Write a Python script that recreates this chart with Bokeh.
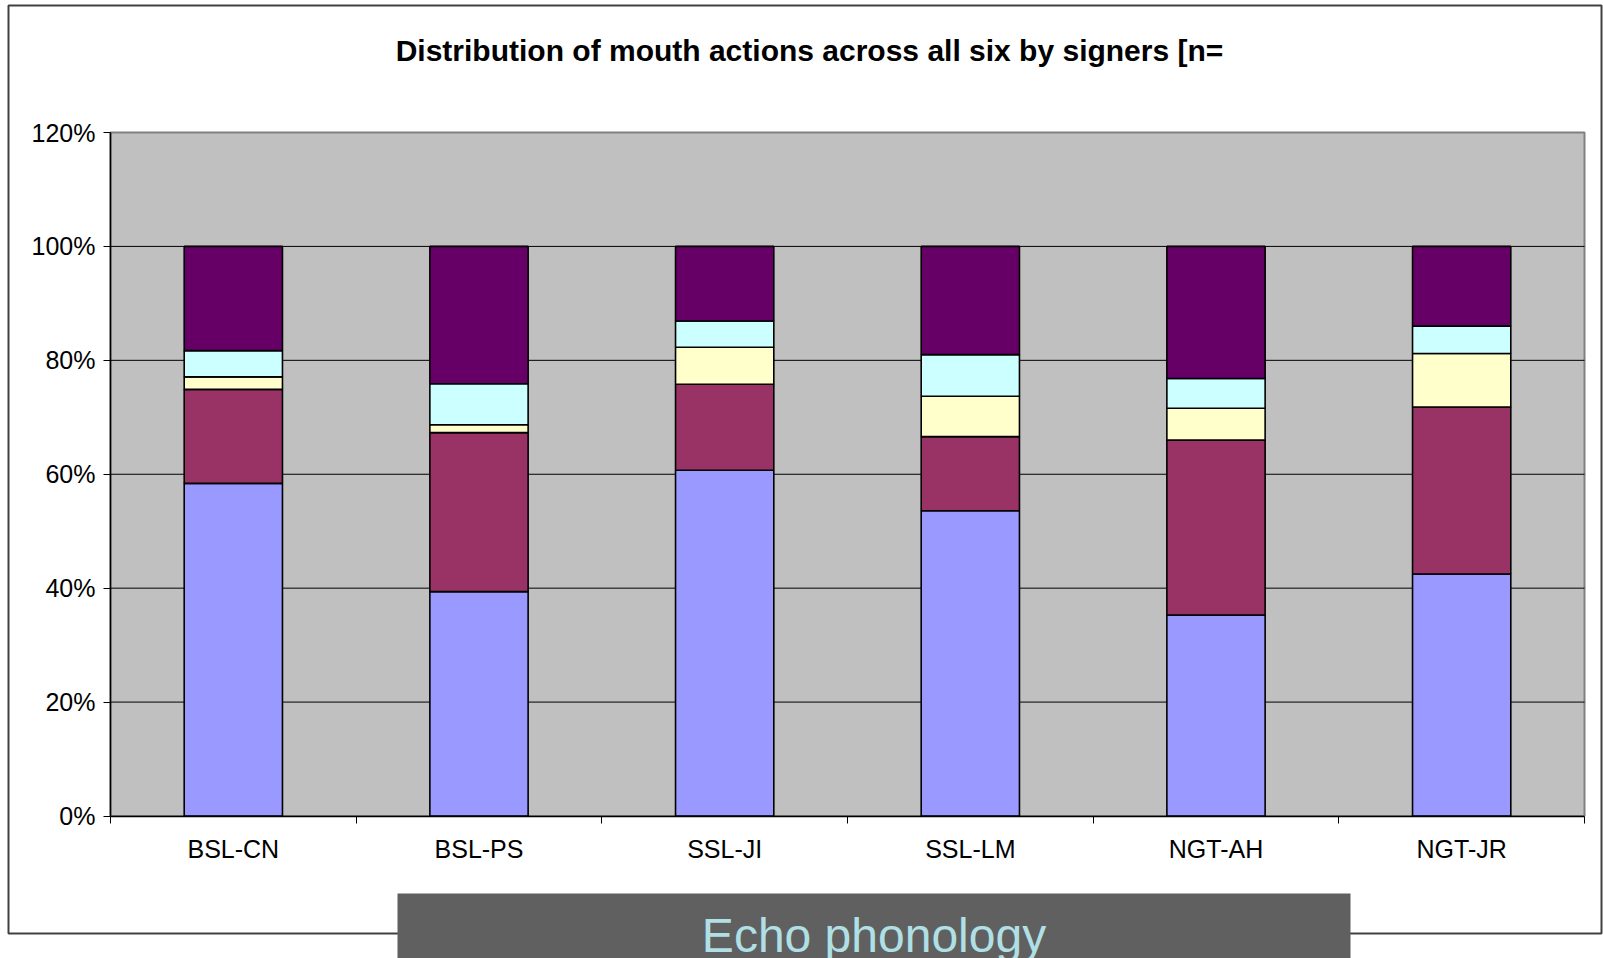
from bokeh.plotting import figure
from bokeh.models import (ColumnDataSource, Range1d, LinearAxis, FixedTicker,
                          NumeralTickFormatter)
from bokeh.core.properties import value
from bokeh.embed import file_html
from bokeh.resources import INLINE

# ---- data (fractions of 1) ----
signers = ["BSL-CN", "BSL-PS", "SSL-JI", "SSL-LM", "NGT-AH", "NGT-JR"]
series_names = ["s1", "s2", "s3", "s4", "s5"]
s1 = [0.584, 0.394, 0.607, 0.536, 0.353, 0.425]
s2 = [0.165, 0.279, 0.151, 0.130, 0.307, 0.293]
s3 = [0.022, 0.014, 0.065, 0.071, 0.056, 0.094]
s4 = [0.046, 0.072, 0.046, 0.073, 0.052, 0.048]
s5 = [0.183, 0.241, 0.131, 0.190, 0.232, 0.140]
colors = ["#9999FF", "#993366", "#FFFFCC", "#CCFFFF", "#660066"]
y_ticks = [0.0, 0.2, 0.4, 0.6, 0.8, 1.0, 1.2]
title_text = "Distribution of mouth actions across all six by signers [n="
banner_text = "Echo phonology"

n = len(signers)
y_max = y_ticks[-1]
centers = [i + 0.5 for i in range(n)]
bounds = [float(i) for i in range(n + 1)]

# ---- layout in canvas pixels ----
W, H = 1603, 958
PL, PR, PT, PB = 110, 1584, 132, 815.5      # plot area edges
xs = (PR - PL) / n
ys = (PB - PT) / y_max
x_range = Range1d(0 - PL / xs, n + (W - PR) / xs)
y_range = Range1d(0 - (H - PB) / ys, y_max + PT / ys)

src = ColumnDataSource(dict(x=centers, s1=s1, s2=s2, s3=s3, s4=s4, s5=s5))

p = figure(width=W, height=H, output_backend="svg", toolbar_location=None,
           title=None, x_range=x_range, y_range=y_range,
           x_axis_type=None, y_axis_type=None,
           min_border=0, min_border_left=0, min_border_right=0,
           min_border_top=0, min_border_bottom=0)
p.background_fill_color = "white"
p.border_fill_color = "white"
p.outline_line_color = None
p.extra_x_ranges = {"px": Range1d(0, W)}
p.extra_y_ranges = {"px": Range1d(H, 0)}

FONT = "Liberation Sans"

# outer chart border
p.quad(left=[8], right=[1601], top=[5], bottom=[933], x_range_name="px",
       y_range_name="px", fill_color=None, line_color="#404040", line_width=2)

# plot area background
p.quad(left=[0], right=[n], bottom=[0], top=[y_max], fill_color="#C0C0C0",
       line_color="#808080", line_width=2)

# horizontal gridlines
gt = y_ticks[1:-1]
p.segment(x0=[0] * len(gt), x1=[n] * len(gt), y0=gt, y1=gt,
          line_color="black", line_width=1)

# stacked bars
p.vbar_stack(series_names, x="x", width=0.4, source=src, color=colors,
             line_color="black", line_width=1.6)

# y axis
yax = LinearAxis(ticker=FixedTicker(ticks=y_ticks, minor_ticks=[]),
                 formatter=NumeralTickFormatter(format="0%"))
yax.fixed_location = 0
yax.bounds = (0, y_max)
yax.major_label_text_font = FONT
yax.major_label_text_font_size = "25px"
yax.major_label_text_color = "black"
yax.major_tick_out = 7
yax.major_tick_in = 0
yax.major_tick_line_color = "black"
yax.axis_line_color = "black"
yax.axis_line_width = 1.5
yax.major_label_standoff = 8
p.add_layout(yax, "left")

# x axis: labels at centers, tick marks at category boundaries
xax = LinearAxis(ticker=FixedTicker(ticks=centers, minor_ticks=bounds))
xax.fixed_location = 0
xax.bounds = (0, n)
xax.major_label_overrides = {c: s for c, s in zip(centers, signers)}
xax.major_label_text_font = FONT
xax.major_label_text_font_size = "25px"
xax.major_label_text_color = "black"
xax.major_tick_line_color = None
xax.major_tick_out = 7
xax.major_tick_in = 0
xax.minor_tick_line_color = "black"
xax.minor_tick_out = 7
xax.minor_tick_in = 0
xax.axis_line_color = "black"
xax.axis_line_width = 1.5
xax.major_label_standoff = 12
p.add_layout(xax, "below")

# title
p.text(x=[809], y=[49.5], text=[title_text], x_range_name="px",
       y_range_name="px", text_align="center", text_baseline="middle",
       text_font=value(FONT), text_font_size="30px", text_font_style="bold",
       text_color="black")

# slide banner
p.quad(left=[397], right=[1350], top=[893], bottom=[H + 5],
       x_range_name="px", y_range_name="px", fill_color="#606060",
       line_color=None)
p.text(x=[873.5], y=[934.5], text=[banner_text], x_range_name="px",
       y_range_name="px", text_align="center", text_baseline="middle",
       text_font=value(FONT), text_font_size="48px", text_color="#B0E0E6")

open("out.html", "w").write(file_html(p, INLINE))
